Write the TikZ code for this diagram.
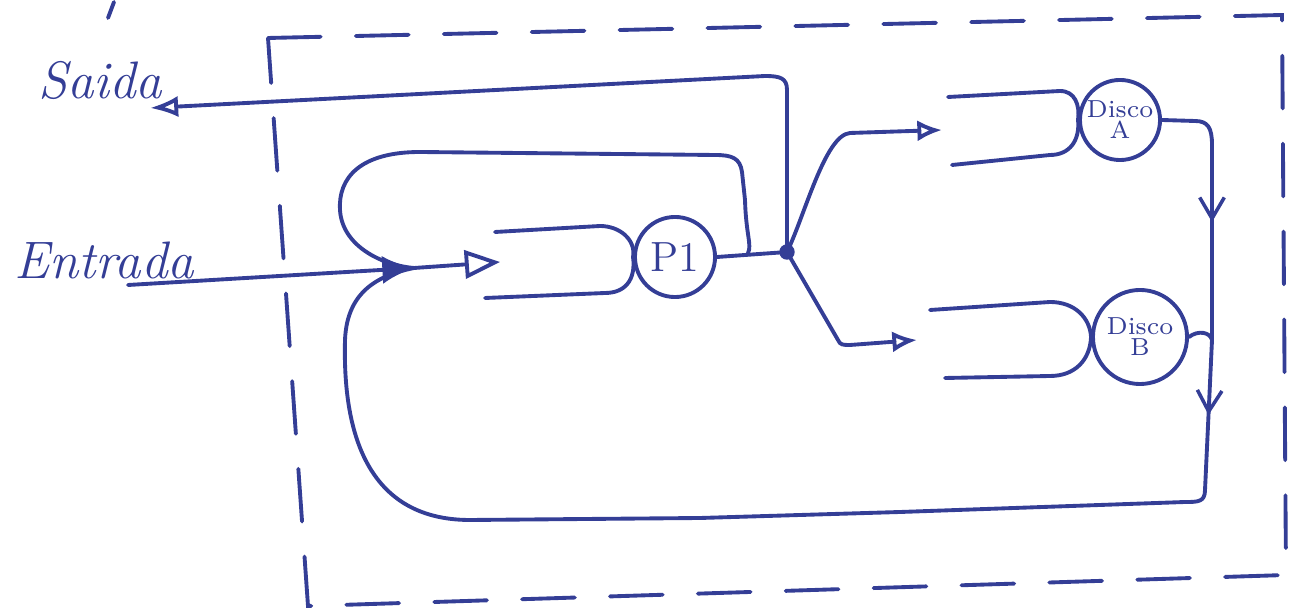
\documentclass[tikz,border=0pt]{standalone}
\usetikzlibrary{arrows.meta,decorations.markings}
\definecolor{ink}{RGB}{52,62,150}
\tikzset{
  pen/.style={draw=ink, line width=1.1pt, line cap=round, line join=round},
  server/.style={circle, pen, inner sep=0pt, text=ink, align=center},
  label/.style={text=ink, font=\fontsize{15}{17}\selectfont\itshape},
  midarrow/.style={postaction={decorate}, decoration={markings,
      mark=at position #1 with {\arrow[ink, line width=1pt]{Straight Barb[length=6pt,width=7pt]}}}},
  boxline/.style={draw=ink, line width=1.1pt, dash pattern=on 15pt off 10pt, line cap=round}
}
\begin{document}
\begin{tikzpicture}[x=0.01cm, y=-0.01cm]
\useasboundingbox (0,0) rectangle (1306,613);

% system boundary
\draw[boxline] (268,38) -- (1282,15) -- (1286,575) -- (308,606) -- cycle;
% stray stroke at the top edge
\draw[pen] (108,18) -- (114,2);

% labels
\node[label] (saida) at (100,80) {Saida};
\node[label] (entrada) at (104,260) {Entrada};

% servers
\node[server, minimum size=0.8cm, font=\large] (p1) at (675,257) {P1};
\node[server, minimum size=0.8cm, font=\scriptsize, text width=0.7cm] (da) at (1120,120) {Disco\\[-2pt]A};
\node[server, minimum size=0.94cm, font=\scriptsize, text width=0.8cm] (db) at (1140,337) {Disco\\[-2pt]B};

% queues
\draw[pen] (495,232) -- (600,226) .. controls (620,226) and (636,240) .. (p1.west)
           .. controls (636,280) and (625,293) .. (605,293) -- (485,298);
\draw[pen] (948,97) -- (1060,91) .. controls (1075,91) and (1080,105) .. (da.west)
           .. controls (1080,140) and (1070,155) .. (1050,155) -- (952,165);
\draw[pen] (930,310) -- (1050,302) .. controls (1075,302) and (1090,318) .. (db.west)
           .. controls (1090,360) and (1075,376) .. (1050,376) -- (945,378);

% points of the network
\coordinate (ein) at (128,285);
\coordinate (mrg) at (414,268);
\coordinate (qin) at (500,262);
\coordinate (jn) at (787,252);
\coordinate (fb) at (748,253);
\coordinate (sout) at (150,108);
\coordinate (ina) at (942,130);
\coordinate (inb) at (917,340);
\coordinate (mb) at (1212,340);
\coordinate (bc) at (1205,490);

% arrivals
\draw[pen, -{Latex[length=9pt,width=8pt]}] (ein) -- (mrg);
\draw[pen, -{Triangle[open,length=10pt,width=8pt]}] (mrg) -- (qin);

% P1 departure and routing
\draw[pen] (p1.east) -- (jn);
\fill[ink] (jn) circle (2.2pt);
\draw[pen, -{Latex[open,length=8pt,width=6pt]}] (jn) -- (787,90) .. controls (787,78) and (780,76) .. (765,76) -- (sout);
\draw[pen, -{Latex[open,length=7pt,width=6pt]}] (jn) .. controls (805,215) and (825,135) .. (850,133) -- (ina);
\draw[pen, -{Latex[open,length=7pt,width=6pt]}] (jn) -- (838,340) .. controls (840,345) and (843,345) .. (850,345) -- (inb);

% feedback loop around P1
\draw[pen] (fb) .. controls (752,245) and (746,235) .. (745,200) -- (742,172)
           .. controls (740,158) and (732,155) .. (715,155) -- (420,152)
           .. controls (360,152) and (338,178) .. (340,210)
           .. controls (342,245) and (380,265) .. (mrg);

% disk departures
\draw[pen, midarrow=0.55] (da.east) -- (1195,121) .. controls (1208,121) and (1212,128) .. (1212,145) -- (mb);
\draw[pen] (db.east) .. controls (1198,330) and (1210,332) .. (mb);
\draw[pen, midarrow=0.5] (mb) -- (bc);
\draw[pen] (bc) .. controls (1205,502) and (1198,502) .. (1185,502)
      -- (900,512) -- (700,518) -- (470,520)
      .. controls (360,520) and (343,420) .. (345,340)
      .. controls (347,290) and (380,275) .. (mrg);
\end{tikzpicture}
\end{document}
